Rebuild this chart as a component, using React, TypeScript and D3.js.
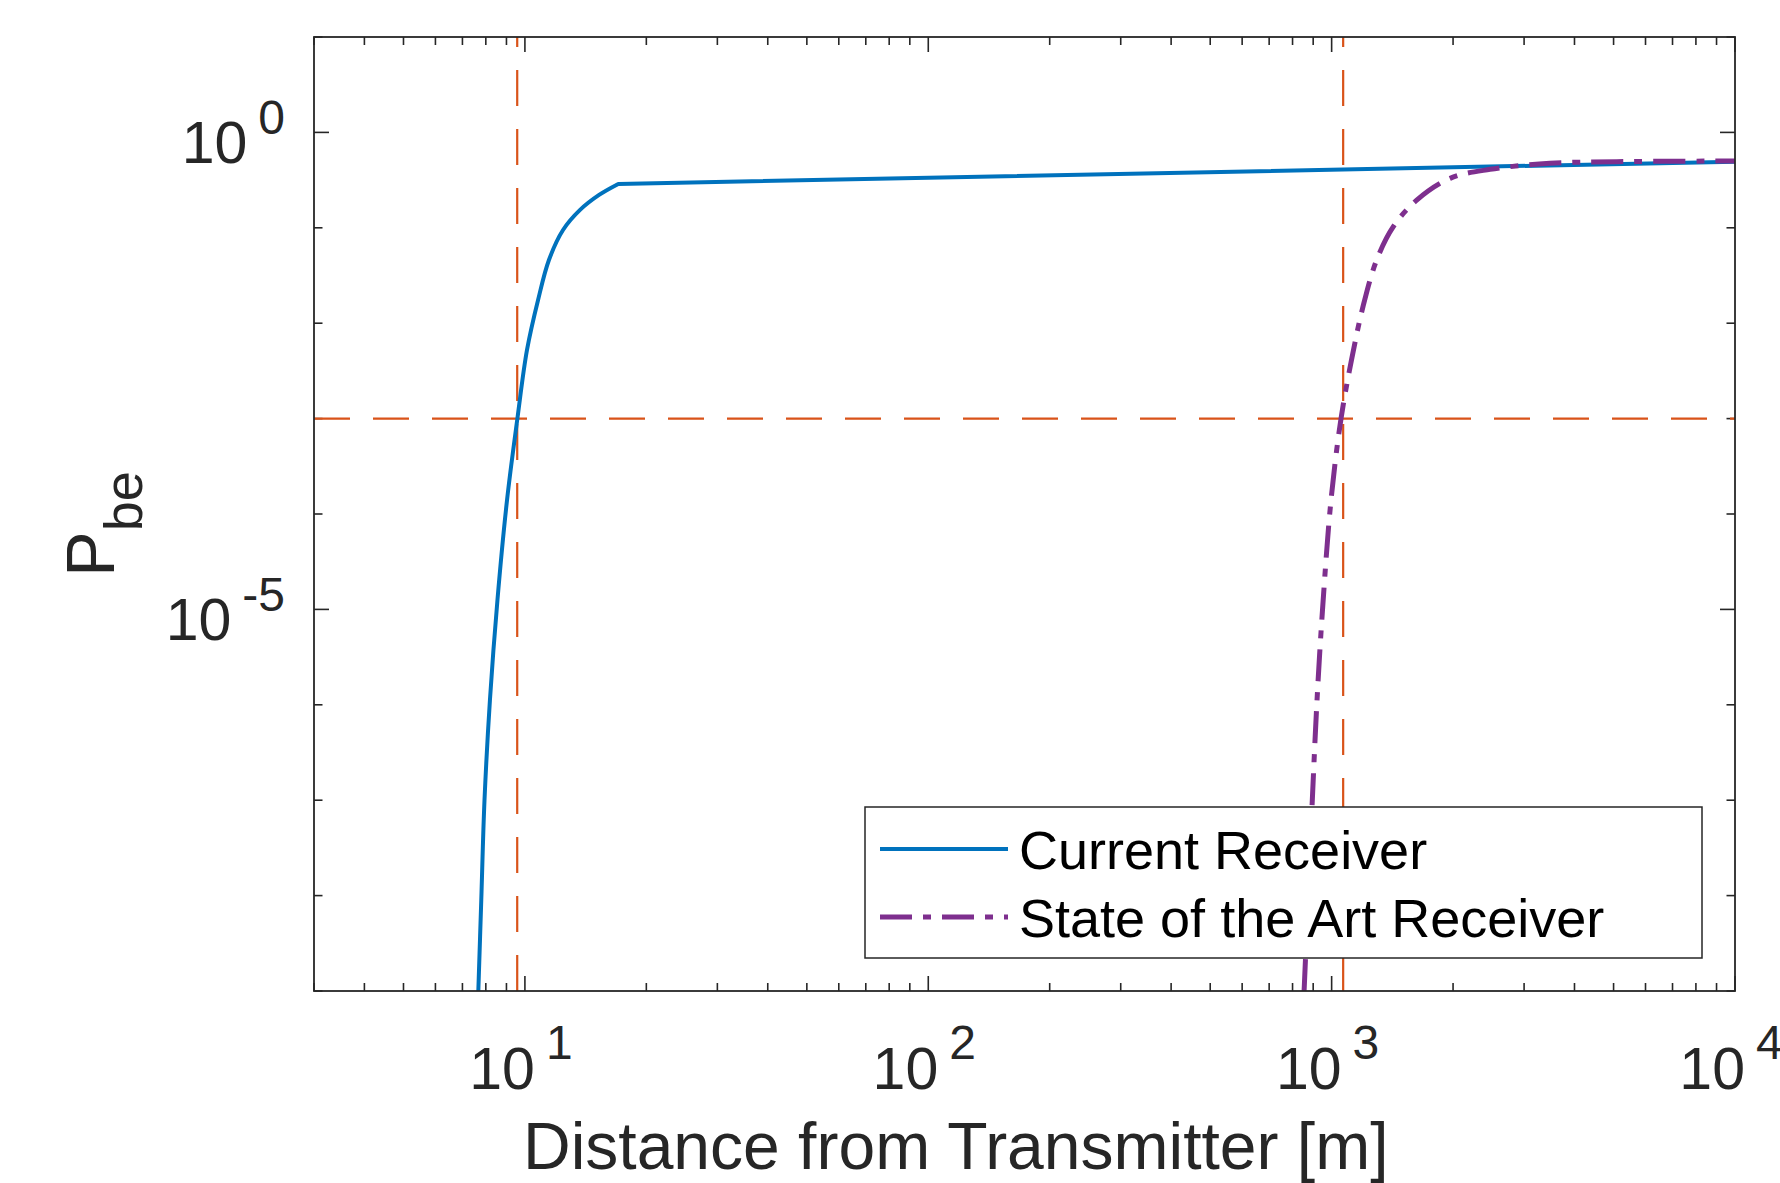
import React, { useEffect, useRef } from "react";
import * as d3 from "d3";

const width = 1780;
const height = 1183;
const plot = { left: 314, right: 1735, top: 37, bottom: 991 };

const font = "'Liberation Sans', Arial, Helvetica, sans-serif";
const axisColor = "#262626";
const blue = "#0072BD";
const purple = "#7E2F8E";
const orange = "#D95319";

// Current receiver; the last point is the far end of the straight tail
const currentDistance = [7.665, 7.795, 7.94, 8.19, 8.55, 9.03, 9.58, 10.12, 10.78, 11.47, 12.43, 13.7, 15.27, 17.04, 10000];
const currentPbe = [1e-9, 9.0e-9, 1.0e-7, 1.12e-6, 1.26e-5, 1.4e-4, 1e-3, 5.24e-3, 1.75e-2, 4.59e-2, 9.48e-2, 0.154, 0.221, 0.288, 0.493];

// State of the art receiver
const sotaDistance = [854.5, 874, 894, 920, 949.4, 996.5, 1055, 1120, 1196, 1293, 1422, 1625, 1966, 2470, 3478, 5091, 10000];
const sotaPbe = [1e-9, 9.0e-9, 8.5e-8, 1.12e-6, 1.0e-5, 1.4e-4, 1e-3, 4.11e-3, 1.49e-2, 4.59e-2, 0.103, 0.195, 0.33, 0.41, 0.474, 0.493, 0.501];

const seriesNames = ["Current Receiver", "State of the Art Receiver"];

const xMajorTicks = [10, 100, 1000, 10000];
const xTickExponents = ["1", "2", "3", "4"];
const yMajorTicks = [1, 1e-5];
const yTickExponents = ["0", "-5"];

const thresholdPbe = 1e-3;
const thresholdDistances = [9.57, 1068];

const App = () => {
  const ref = useRef<SVGSVGElement>(null);

  useEffect(() => {
    const svg = d3.select(ref.current);
    svg.selectAll("*").remove();

    const x = d3.scaleLog().domain([3, 1e4]).range([plot.left, plot.right]);
    const y = d3.scaleLog().domain([1e-9, 10]).range([plot.bottom, plot.top]);

    svg.append("rect").attr("width", width).attr("height", height).attr("fill", "#fff");

    svg.append("defs").append("clipPath").attr("id", "plot-clip")
      .append("rect")
      .attr("x", plot.left).attr("y", plot.top)
      .attr("width", plot.right - plot.left).attr("height", plot.bottom - plot.top);

    const isPow10 = (t: number) => Math.abs(Math.log10(t) - Math.round(Math.log10(t))) < 1e-9;
    const xMinor = x.ticks().filter(t => !xMajorTicks.includes(t) && t < 1e4);
    const yMinor = y.ticks().filter(t => isPow10(t) && !yMajorTicks.some(m => Math.abs(m - t) / m < 1e-6));

    // ticks (inward, all four sides)
    const ticks = svg.append("g").attr("stroke", axisColor).attr("stroke-width", 1.6);
    const xTick = (vals: number[], len: number) => {
      ticks.append("g").selectAll().data(vals).join("line")
        .attr("x1", d => x(d)).attr("x2", d => x(d))
        .attr("y1", plot.bottom).attr("y2", plot.bottom - len);
      ticks.append("g").selectAll().data(vals).join("line")
        .attr("x1", d => x(d)).attr("x2", d => x(d))
        .attr("y1", plot.top).attr("y2", plot.top + len);
    };
    const yTick = (vals: number[], len: number) => {
      ticks.append("g").selectAll().data(vals).join("line")
        .attr("y1", d => y(d)).attr("y2", d => y(d))
        .attr("x1", plot.left).attr("x2", plot.left + len);
      ticks.append("g").selectAll().data(vals).join("line")
        .attr("y1", d => y(d)).attr("y2", d => y(d))
        .attr("x1", plot.right).attr("x2", plot.right - len);
    };
    xTick(xMinor, 8);
    xTick(xMajorTicks, 15);
    yTick(yMinor, 8.5);
    yTick(yMajorTicks, 15);

    // threshold lines
    const guides = svg.append("g").attr("clip-path", "url(#plot-clip)")
      .attr("stroke", orange).attr("stroke-width", 2.2).attr("stroke-dasharray", "36 23").attr("fill", "none");
    guides.append("line")
      .attr("x1", plot.left).attr("x2", plot.right)
      .attr("y1", y(thresholdPbe)).attr("y2", y(thresholdPbe));
    guides.selectAll(null).data(thresholdDistances).join("line")
      .attr("x1", d => x(d)).attr("x2", d => x(d))
      .attr("y1", plot.bottom).attr("y2", plot.top);

    // curves
    const smooth = d3.line<[number, number]>()
      .x(d => x(d[0]))
      .y(d => y(d[1]))
      .curve(d3.curveCatmullRom.alpha(0.5));

    const curves = svg.append("g").attr("clip-path", "url(#plot-clip)").attr("fill", "none");

    // blue: smooth rise, then a sharp corner into a straight tail
    const cur = d3.zip(currentDistance, currentPbe) as [number, number][];
    const tail = cur[cur.length - 1];
    curves.append("path")
      .attr("d", smooth(cur.slice(0, -1)) + `L${x(tail[0])},${y(tail[1])}`)
      .attr("stroke", blue).attr("stroke-width", 4).attr("stroke-linejoin", "round");

    curves.append("path")
      .attr("d", smooth(d3.zip(sotaDistance, sotaPbe) as [number, number][]))
      .attr("stroke", purple).attr("stroke-width", 5)
      .attr("stroke-dasharray", "32 11 8 11");

    // axes box
    svg.append("rect")
      .attr("x", plot.left).attr("y", plot.top)
      .attr("width", plot.right - plot.left).attr("height", plot.bottom - plot.top)
      .attr("fill", "none").attr("stroke", axisColor).attr("stroke-width", 1.8);

    // x tick labels
    const xl = svg.append("g").attr("font-family", font).attr("fill", axisColor)
      .selectAll().data(xMajorTicks).join("text")
      .attr("x", d => x(d) - 4).attr("y", 1089)
      .attr("text-anchor", "middle").attr("font-size", 59);
    xl.append("tspan").text("10");
    xl.append("tspan").attr("dx", 11).attr("dy", -30).attr("font-size", 48)
      .text((d, i) => xTickExponents[i]);

    // y tick labels
    const yl = svg.append("g").attr("font-family", font).attr("fill", axisColor)
      .selectAll().data(yMajorTicks).join("text")
      .attr("x", 285).attr("y", d => y(d) + 31)
      .attr("text-anchor", "end").attr("font-size", 59);
    yl.append("tspan").text("10");
    yl.append("tspan").attr("dx", 11).attr("dy", -29).attr("font-size", 48)
      .text((d, i) => yTickExponents[i]);

    // axis titles
    svg.append("text")
      .attr("x", 523).attr("y", 1169)
      .attr("font-family", font).attr("font-size", 66).attr("fill", axisColor)
      .text("Distance from Transmitter [m]");

    const yTitle = svg.append("text")
      .attr("transform", "translate(114, 524) rotate(-90)")
      .attr("text-anchor", "middle")
      .attr("font-family", font).attr("font-size", 68).attr("fill", axisColor);
    yTitle.append("tspan").text("P");
    yTitle.append("tspan").attr("dy", 28).attr("font-size", 54).text("be");

    // legend
    const legend = svg.append("g");
    legend.append("rect")
      .attr("x", 865).attr("y", 807).attr("width", 837).attr("height", 151)
      .attr("fill", "#fff").attr("stroke", axisColor).attr("stroke-width", 1.5);
    const rows = [
      { name: seriesNames[0], color: blue, width: 4, dash: null, y: 849 },
      { name: seriesNames[1], color: purple, width: 5, dash: "32 11 8 11", y: 917 },
    ];
    rows.forEach(r => {
      legend.append("line")
        .attr("x1", 880).attr("x2", 1008).attr("y1", r.y).attr("y2", r.y)
        .attr("stroke", r.color).attr("stroke-width", r.width)
        .attr("stroke-dasharray", r.dash);
      legend.append("text")
        .attr("x", 1019).attr("y", r.y + 20)
        .attr("font-family", font).attr("font-size", 54).attr("fill", "#000")
        .text(r.name);
    });
  }, []);

  return (
    <svg
      ref={ref}
      width={width}
      height={height}
      style={{ position: "absolute", left: 0, top: 0, display: "block" }}
    />
  );
};

export default App;
